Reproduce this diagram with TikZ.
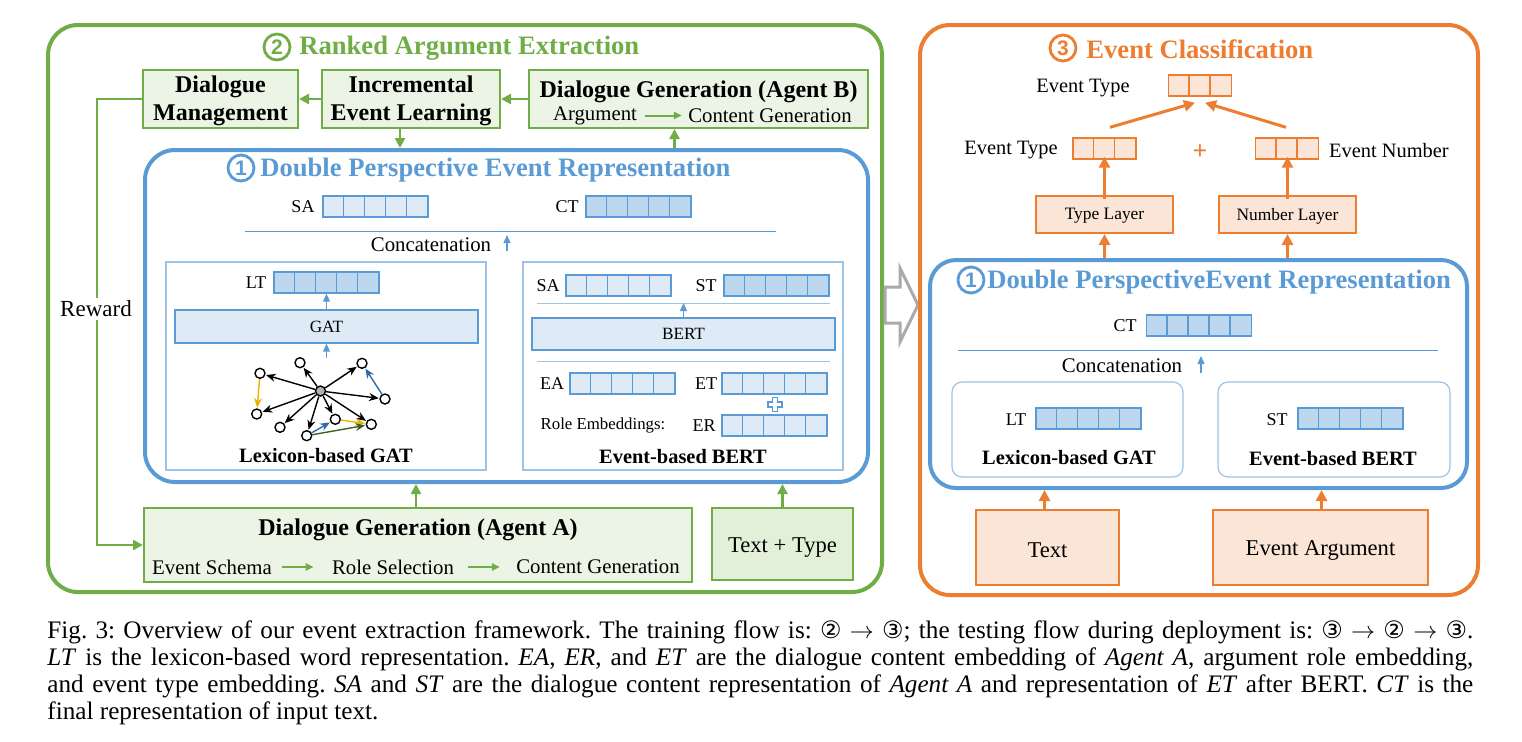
\documentclass[tikz,border=0pt]{standalone}
\usepackage{fontspec}
\setmainfont{Liberation Serif}
\setsansfont{Liberation Sans}
\newfontfamily\dejavu{DejaVu Sans}
\usetikzlibrary{arrows.meta,calc}
\definecolor{gC}{HTML}{70AD47}
\definecolor{gF}{HTML}{EBF4E5}
\definecolor{gF2}{HTML}{E2F0D9}
\definecolor{bC}{HTML}{5B9BD5}
\definecolor{bL}{HTML}{DEEBF7}
\definecolor{bD}{HTML}{BDD7EE}
\definecolor{bT}{HTML}{9DC3E6}
\definecolor{oC}{HTML}{ED7D31}
\definecolor{oF}{HTML}{FBE5D6}
\definecolor{grA}{HTML}{AAAAAA}
\definecolor{yA}{HTML}{EDB100}
\definecolor{dB}{HTML}{2E6DA4}
\definecolor{dG}{HTML}{3B6428}
\newcommand\cellvec[5]{%
  \node[#5, minimum width=#4*10.5pt] (#1) at (#2,#3) {};
  \pgfmathtruncatemacro\cvm{#4-1}
  \foreach \k in {1,...,\cvm} \draw[#5] ([xshift=\k*10.5pt]#1.north west) -- ([xshift=\k*10.5pt]#1.south west);
}
\newcommand\cn[1]{{\dejavu\fontsize{12}{12}\selectfont #1}}
\begin{document}
\begin{tikzpicture}[x=0.5pt,y=-0.5pt,
  vl/.style={draw=bC, fill=bL, line width=0.7pt, minimum height=10.5pt, inner sep=0pt},
  vd/.style={draw=bC, fill=bD, line width=0.7pt, minimum height=10.5pt, inner sep=0pt},
  vo/.style={draw=oC, fill=oF, line width=0.7pt, minimum height=10.5pt, inner sep=0pt},
  circnum/.style={circle, draw=#1, text=#1, line width=1.4pt, minimum size=13pt, inner sep=0pt, font=\fontsize{10.5}{10.5}\selectfont\bfseries\sffamily},
  ttl/.style={anchor=west, inner sep=0pt, text=#1, font=\fontsize{13.3}{15}\selectfont\bfseries},
  gbox/.style={draw=gC, fill=gF, line width=1pt, inner sep=0pt},
  gtxt/.style={inner sep=0pt, align=center, font=\fontsize{12}{14}\selectfont\bfseries},
  obox/.style={draw=oC, fill=oF, line width=1pt, inner sep=0pt, align=center},
  lbl/.style={inner sep=0pt, font=\fontsize{9}{10}\selectfont},
  txt/.style={inner sep=0pt, font=\fontsize{10.4}{12}\selectfont},
  btxt/.style={inner sep=0pt, font=\fontsize{10.2}{12}\selectfont\bfseries},
  garr/.style={draw=gC, line width=1.3pt, -{Triangle[length=5pt,width=5pt]}},
  garrs/.style={draw=gC, line width=1pt, -{Triangle[length=4pt,width=3.5pt]}},
  oarr/.style={draw=oC, line width=1.5pt, -{Triangle[length=5.5pt,width=5.5pt]}},
  barr/.style={draw=bC, line width=0.6pt, -{Triangle[length=4pt,width=3.5pt]}},
  bline/.style={draw=bC, line width=0.5pt},
  gn/.style={circle, draw=black, fill=white, line width=0.7pt, minimum size=5pt, inner sep=0pt},
  ge/.style={line width=0.7pt, -{Stealth[length=4.8pt,width=4pt]}, shorten >=0.3pt}
]
\useasboundingbox (0,0) rectangle (1522,741);

% ===== green panel =====
\node[draw=gC, line width=2pt, rounded corners=15pt, minimum width=417pt, minimum height=283.5pt, inner sep=0pt] (G) at (465,308.5) {};
\node[circnum=gC] (Gc) at (277,47) {2};
\node[ttl=gC] (Gt) at (299,48) {Ranked Argument Extraction};

\node[gbox, minimum width=77.5pt, minimum height=29pt] (DM) at (220.5,99) {};
\node[gtxt] (DMt) at (220.5,101) {Dialogue\\Management};
\node[gbox, minimum width=89pt, minimum height=29pt] (IEL) at (411,99) {};
\node[gtxt] (IELt) at (411,101) {Incremental\\Event Learning};
\node[gbox, minimum width=169.5pt, minimum height=29pt] (DGB) at (698.5,99) {};
\node[gtxt] (DGBt) at (698.5,91.5) {Dialogue Generation (Agent B)};
\node[txt] (Arg) at (595,115.5) {Argument};
\node[txt] (CG1) at (770,115.5) {Content Generation};
\draw[garrs] ([xshift=4pt]Arg.east) -- ([xshift=-3pt]CG1.west);

\draw[garr] (IEL.west) -- (DM.east);
\draw[garr] (DGB.west) -- (IEL.east);

% ===== blue panel 1 =====
\node[draw=bC, line width=2pt, rounded corners=15pt, minimum width=361.5pt, minimum height=166pt, inner sep=0pt] (B1) at (506.5,316) {};
\node[circnum=bC] (B1c) at (241,168) {1};
\node[ttl=bC] (B1t) at (260,170) {Double Perspective Event Representation};

\draw[garr] ([xshift=-5.5pt]IEL.south) -- ([xshift=-5.5pt]IEL.south |- B1.north);
\draw[garr] ([xshift=-12pt]DGB.south |- B1.north) -- ([xshift=-12pt]DGB.south);

\node[lbl] (SA1l) at (303,206.5) {SA};
\cellvec{SA1}{375.5}{206.5}{5}{vl}
\node[lbl] (CT1l) at (567,206.5) {CT};
\cellvec{CT1}{638.5}{206.5}{5}{vd}
\draw[bline] (245,231) coordinate (c1l) -- (776,231) coordinate (c1r);
\node[txt] (Cat1) at (431,244.5) {Concatenation};
\coordinate (cat1a) at (507,251);
\coordinate (cat1b) at (507,235);
\draw[barr] (cat1a) -- (cat1b);

% left inner
\node[draw=bT, line width=0.6pt, minimum width=160pt, minimum height=104pt, inner sep=0pt] (IL) at (326,366) {};
\node[lbl] (LT1l) at (256,282.5) {LT};
\cellvec{LT1}{326.5}{282.5}{5}{vd}
\node[draw=bC, fill=bL, line width=0.7pt, minimum width=151.5pt, minimum height=16.5pt, inner sep=0pt, font=\fontsize{8.6}{10}\selectfont] (GAT) at (326.5,326.5) {GAT};
\draw[barr] (GAT.north) -- (LT1.south);
\coordinate (gtop) at (326.5,358);
\draw[barr] (gtop) -- (GAT.south);

% graph
\node[gn, fill=black!30] (g0) at (320.5,391) {};
\node[gn] (g1) at (300,362.7) {};
\node[gn] (g2) at (362,363.3) {};
\node[gn] (g3) at (260,373.3) {};
\node[gn] (g4) at (385,399) {};
\node[gn] (g5) at (256.7,414) {};
\node[gn] (g6) at (280,427.3) {};
\node[gn] (g7) at (306.7,435.7) {};
\node[gn] (g8) at (335.3,419.3) {};
\node[gn] (g9) at (371.3,424.3) {};
\foreach \t in {1,...,9} \draw[ge] (g0) -- (g\t);
\draw[ge, draw=yA] (g3) -- (g5);
\draw[ge, draw=dB] (g4) -- (g2);
\draw[ge, draw=dB] (g7) -- (g8);
\draw[ge, draw=yA] (g8) -- (g9);
\draw[ge, draw=dG] (g7) -- (g9);
\node[btxt] (LGAT) at (326,455.5) {Lexicon-based GAT};

% right inner
\node[draw=bT, line width=0.6pt, minimum width=160pt, minimum height=104pt, inner sep=0pt] (IR) at (683,366) {};
\node[lbl] (SA2l) at (548,285.5) {SA};
\cellvec{SA2}{618.5}{285.5}{5}{vl}
\node[lbl] (ST2l) at (706,285.5) {ST};
\cellvec{ST2}{776.5}{285.5}{5}{vd}
\draw[bline, draw=bT] (537,303) coordinate (l2a) -- (830,303) coordinate (l2b);
\node[draw=bC, fill=bL, line width=0.7pt, minimum width=151.5pt, minimum height=16pt, inner sep=0pt, font=\fontsize{8.6}{10}\selectfont] (BERT) at (683.5,334) {BERT};
\draw[barr] (BERT.north) -- (BERT.north |- l2a);
\draw[bline, draw=bT] (537,361) coordinate (l3a) -- (830,361) coordinate (l3b);
\node[lbl] (EAl) at (552,383.5) {EA};
\cellvec{EA}{622.5}{383.5}{5}{vl}
\node[lbl] (ETl) at (706,383.5) {ET};
\cellvec{ET}{774.5}{383.5}{5}{vl}
\draw[draw=bC, fill=white, line width=0.6pt] (772.5,397.5) -- (777.5,397.5) -- (777.5,402) -- (782,402) -- (782,407) -- (777.5,407) -- (777.5,411.5) -- (772.5,411.5) -- (772.5,407) -- (768,407) -- (768,402) -- (772.5,402) -- cycle;
\node[inner sep=0pt, font=\fontsize{8.4}{10}\selectfont] (RE) at (603,425.5) {Role Embeddings:};
\node[lbl] (ERl) at (704,425.5) {ER};
\cellvec{ER}{774.5}{425.5}{5}{vl}
\node[btxt] (EBERT) at (683,456.5) {Event-based BERT};

% bottom green
\node[gbox, minimum width=274pt, minimum height=37pt] (DGA) at (418,545) {};
\node[gtxt] (DGAt) at (418,530) {Dialogue Generation (Agent A)};
\node[txt] (ES) at (212,567) {Event Schema};
\node[txt] (RS) at (393,567) {Role Selection};
\node[txt] (CG2) at (598,567) {Content Generation};
\draw[garrs] ([xshift=5pt]ES.east) -- ([xshift=-9pt]RS.west);
\draw[garrs] ([xshift=7pt]RS.east) -- ([xshift=-8pt]CG2.west);
\node[draw=gC, fill=gF2, line width=1pt, minimum width=70.5pt, minimum height=36pt, inner sep=0pt] (TT) at (782.5,544) {};
\node[inner sep=0pt, font=\fontsize{11.3}{13}\selectfont] (TTt) at (782.5,547.5) {Text + Type};
\draw[garr] ([xshift=-1pt]DGA.north) -- ([xshift=-1pt]DGA.north |- B1.south);
\draw[garr] (TT.north) -- (TT.north |- B1.south);

% reward loop
\draw[garr] (DM.west) -- ++(-45,0) |- (DGA.west);
\node[fill=white, inner sep=1.5pt, font=\fontsize{11.5}{13}\selectfont] (RW) at (96,309) {Reward};

% grey hollow arrow
\draw[draw=grA, line width=1.5pt, fill=white, line join=miter] (885,287) -- (900,287) -- (900,268) -- (918,305) -- (900,342) -- (900,323) -- (885,323) -- cycle;

% ===== orange panel =====
\node[draw=oC, line width=2pt, rounded corners=15pt, minimum width=279pt, minimum height=285pt, inner sep=0pt] (O) at (1199,310) {};
\node[circnum=oC] (Oc) at (1063,48) {3};
\node[ttl=oC] (Ot) at (1086,49.5) {Event Classification};

\node[txt, font=\fontsize{10.2}{12}\selectfont] (ETtopl) at (1083,88) {Event Type};
\cellvec{ETop}{1200}{85.5}{3}{vo}
\node[txt, font=\fontsize{10.2}{12}\selectfont] (ET2l) at (1011,150.5) {Event Type};
\cellvec{ET2}{1104.5}{148.5}{3}{vo}
\node[inner sep=0pt, text=oC, font=\fontsize{13}{14}\selectfont\bfseries] (plus) at (1200,152) {+};
\cellvec{EN}{1287}{148.5}{3}{vo}
\node[txt, font=\fontsize{10.2}{12}\selectfont] (ENl) at (1389,150.5) {Event Number};
\draw[oarr] ([shift={(5.5,-10)}]ET2.north) -- ([shift={(-5,6)}]ETop.south);
\draw[oarr] ([shift={(-1,-10)}]EN.north) -- ([shift={(5,6)}]ETop.south);

\node[obox, minimum width=68.5pt, minimum height=18.5pt] (TL) at (1104.5,214.5) {};
\node[inner sep=0pt, font=\fontsize{8.7}{10}\selectfont] (TLt) at (1104.5,216) {Type Layer};
\node[obox, minimum width=68.5pt, minimum height=18.5pt] (NL) at (1287.5,214.5) {};
\node[inner sep=0pt, font=\fontsize{8.7}{10}\selectfont] (NLt) at (1287.5,216) {Number Layer};
\draw[oarr] ([yshift=-2pt]TL.north) -- ([yshift=1.5pt]TL.north |- ET2.south);
\draw[oarr] ([yshift=-2pt]NL.north) -- ([yshift=1.5pt]NL.north |- EN.south);

% blue panel 2
\node[draw=bC, line width=2pt, rounded corners=13pt, minimum width=268.5pt, minimum height=114pt, inner sep=0pt] (B2) at (1198.5,374) {};
\draw[oarr] (TL.south |- B2.north) -- (TL.south);
\draw[oarr] (NL.south |- B2.north) -- (NL.south);
\node[circnum=bC] (B2c) at (971,280) {1};
\node[ttl=bC] (B2t) at (987,282) {Double PerspectiveEvent Representation};
\node[lbl] (CT3l) at (1125,326) {CT};
\cellvec{CT3}{1199}{325.5}{5}{vd}
\draw[bline] (958,350) coordinate (l4a) -- (1438,350) coordinate (l4b);
\node[txt] (Cat2) at (1122,366) {Concatenation};
\coordinate (cat2a) at (1201,373);
\coordinate (cat2b) at (1201,356);
\draw[barr] (cat2a) -- (cat2b);
\node[draw=bT, line width=0.6pt, rounded corners=5pt, minimum width=115.5pt, minimum height=47.5pt, inner sep=0pt] (IL2) at (1067.5,429.5) {};
\node[draw=bT, line width=0.6pt, rounded corners=5pt, minimum width=116pt, minimum height=47.5pt, inner sep=0pt] (IR2) at (1334,429.5) {};
\node[lbl] (LT3l) at (1016,420) {LT};
\cellvec{LT3}{1088.5}{418.5}{5}{vd}
\node[lbl] (ST3l) at (1277,420) {ST};
\cellvec{ST3}{1350.5}{418.5}{5}{vd}
\node[btxt] (LGAT2) at (1069,458) {Lexicon-based GAT};
\node[btxt] (EBERT2) at (1333,459) {Event-based BERT};

\node[obox, minimum width=71.5pt, minimum height=37.5pt] (Tx) at (1047.5,547.5) {};
\node[inner sep=0pt, font=\fontsize{11.3}{13}\selectfont] (Txt) at (1047.5,550) {Text};
\node[obox, minimum width=107.5pt, minimum height=37.5pt] (EArg) at (1320.5,547.5) {};
\node[inner sep=0pt, font=\fontsize{11.3}{13}\selectfont] (EArgt) at (1320.5,550) {Event Argument};
\draw[oarr] ([xshift=-1.5pt]Tx.north) -- ([xshift=-1.5pt]Tx.north |- B2.south);
\draw[oarr] ([xshift=0.5pt]EArg.north) -- ([xshift=0.5pt]EArg.north |- B2.south);

% ===== caption =====
\node[anchor=north west, inner sep=0pt, text width=713pt, align=justify, font=\fontsize{12.6}{13.6}\selectfont\frenchspacing] (cap) at (47,620) {Fig. 3: Overview of our event extraction framework. The training flow is: \cn{②} $\rightarrow$ \cn{③}; the testing flow during deployment is: \cn{③} $\rightarrow$ \cn{②} $\rightarrow$ \cn{③}.\linebreak
\textit{LT} is the lexicon-based word representation. \textit{EA}, \textit{ER}, and \textit{ET} are the dialogue content embedding of \textit{Agent A}, argument role embedding,\linebreak
and event type embedding. \textit{SA} and \textit{ST} are the dialogue content representation of \textit{Agent A} and representation of \textit{ET} after BERT. \textit{CT} is the\linebreak
final representation of input text.};
\end{tikzpicture}
\end{document}
